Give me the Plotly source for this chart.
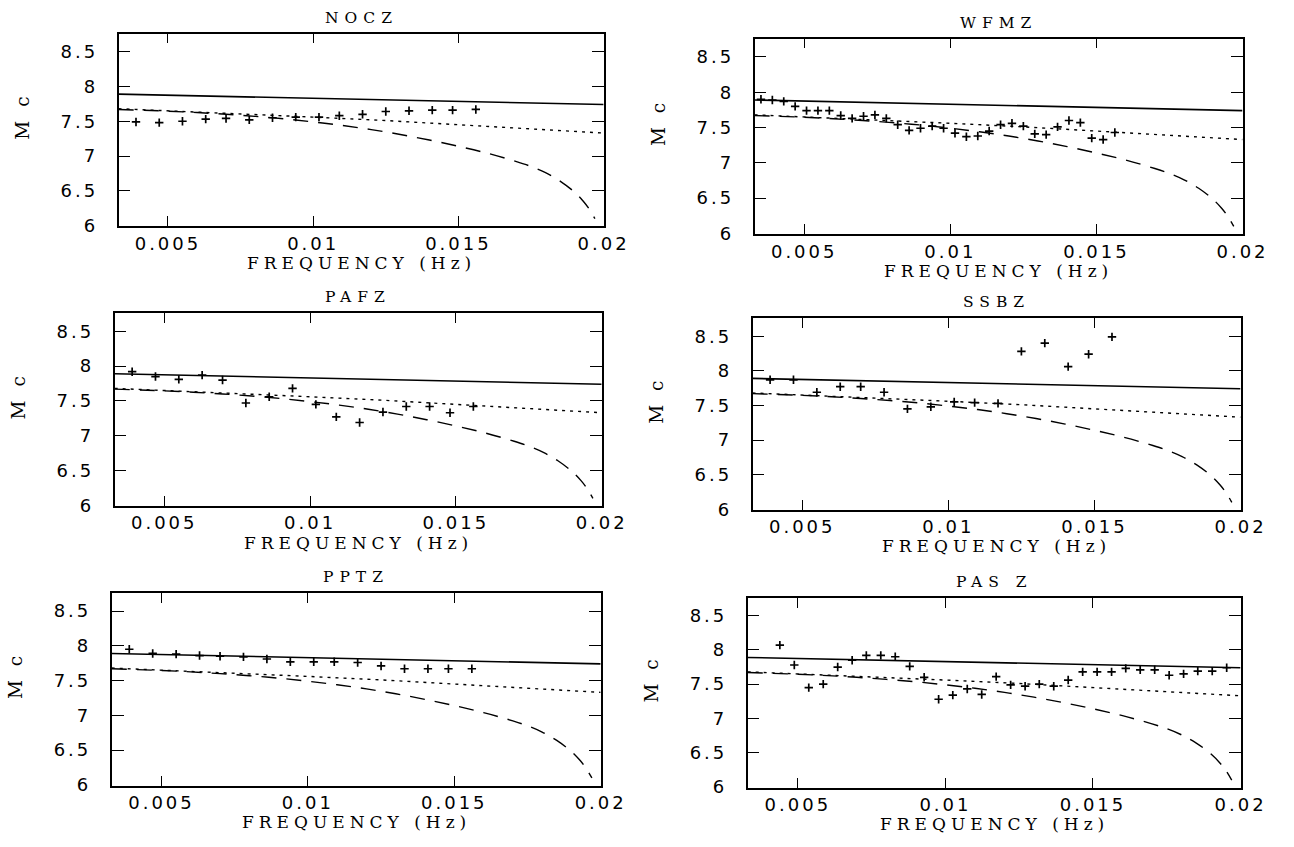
import plotly.graph_objects as go

# ---- model curves (shared by every station) ----
solid_freq = [0.0033, 0.010, 0.015, 0.020]
solid_mc = [7.89, 7.83, 7.78, 7.74]

dotted_freq = [0.0033, 0.005, 0.0075, 0.010, 0.0125, 0.015, 0.0175, 0.020]
dotted_mc = [7.68, 7.65, 7.61, 7.56, 7.51, 7.45, 7.39, 7.33]

dashed_freq = [0.0033, 0.005, 0.006, 0.007, 0.008, 0.009, 0.010, 0.011, 0.012,
               0.013, 0.014, 0.015, 0.016, 0.017, 0.0175, 0.018, 0.0185, 0.019,
               0.0193, 0.0195, 0.0197]
dashed_mc = [7.67, 7.645, 7.625, 7.60, 7.57, 7.535, 7.49, 7.44, 7.38,
             7.31, 7.23, 7.14, 7.04, 6.92, 6.85, 6.76, 6.64, 6.48,
             6.35, 6.24, 6.10]

# ---- station measurements ----
freq_a = [0.0039, 0.0047, 0.0055, 0.0063, 0.0070, 0.0078, 0.0086, 0.0094,
          0.0102, 0.0109, 0.0117, 0.0125, 0.0133, 0.0141, 0.0148, 0.0156]

freq_b = [0.00352, 0.00391, 0.00430, 0.00469, 0.00508, 0.00547, 0.00586, 0.00625,
          0.00664, 0.00703, 0.00742, 0.00781, 0.00820, 0.00859, 0.00898, 0.00938,
          0.00977, 0.01016, 0.01055, 0.01094, 0.01133, 0.01172, 0.01211, 0.01250,
          0.01289, 0.01328, 0.01367, 0.01406, 0.01445, 0.01484, 0.01523, 0.01563]

freq_c = [0.00439, 0.00488, 0.00537, 0.00586, 0.00635, 0.00684, 0.00732, 0.00781,
          0.00830, 0.00879, 0.00928, 0.00977, 0.01025, 0.01074, 0.01123, 0.01172,
          0.01221, 0.01270, 0.01318, 0.01367, 0.01416, 0.01465, 0.01514, 0.01563,
          0.01611, 0.01660, 0.01709, 0.01758, 0.01807, 0.01855, 0.01904, 0.01953]

nocz_mc = [7.49, 7.48, 7.50, 7.53, 7.54, 7.52, 7.55, 7.56,
           7.56, 7.58, 7.60, 7.64, 7.65, 7.66, 7.66, 7.67]

wfmz_mc = [7.90, 7.89, 7.87, 7.80, 7.74, 7.74, 7.74, 7.67,
           7.63, 7.66, 7.68, 7.63, 7.54, 7.46, 7.49, 7.52,
           7.49, 7.42, 7.37, 7.38, 7.45, 7.54, 7.56, 7.52,
           7.41, 7.40, 7.51, 7.60, 7.57, 7.35, 7.33, 7.43]

pafz_mc = [7.92, 7.85, 7.81, 7.87, 7.80, 7.47, 7.56, 7.68,
           7.45, 7.27, 7.19, 7.34, 7.42, 7.42, 7.33, 7.42]

ssbz_mc = [7.87, 7.87, 7.69, 7.77, 7.77, 7.69, 7.45, 7.48,
           7.55, 7.54, 7.53, 8.28, 8.40, 8.06, 8.24, 8.49]

pptz_mc = [7.95, 7.89, 7.88, 7.86, 7.85, 7.84, 7.81, 7.77,
           7.77, 7.77, 7.76, 7.71, 7.67, 7.67, 7.67, 7.67]

pasz_mc = [8.07, 7.78, 7.45, 7.50, 7.75, 7.85, 7.92, 7.92,
           7.90, 7.76, 7.60, 7.28, 7.34, 7.43, 7.35, 7.61,
           7.49, 7.47, 7.50, 7.47, 7.56, 7.68, 7.68, 7.68,
           7.73, 7.71, 7.71, 7.63, 7.65, 7.69, 7.69, 7.74]

station_names = ["NOCZ", "WFMZ", "PAFZ", "SSBZ", "PPTZ", "PAS Z"]
station_freq = [freq_a, freq_b, freq_a, freq_a, freq_a, freq_c]
station_mc = [nocz_mc, wfmz_mc, pafz_mc, ssbz_mc, pptz_mc, pasz_mc]

x_tickvals = [0.005, 0.01, 0.015, 0.02]
x_ticklabels = ["0.005", "0.01", "0.015", "0.02"]
y_tickvals = [6, 6.5, 7, 7.5, 8, 8.5]
y_ticklabels = ["6", "6.5", "7", "7.5", "8", "8.5"]

X_RANGE = [0.0033, 0.0200]
Y_RANGE = [5.99, 8.76]

W, H = 1294, 847

# panel frames in pixels: (left, right, top, bottom)
frames = [
    (121, 616, 34, 229),
    (770, 1268, 39, 237),
    (117, 614, 317, 512),
    (768, 1266, 322, 516),
    (114, 613, 600, 795),
    (763, 1266, 605, 797),
]

serif = "DejaVu Serif"
sans = "DejaVu Sans"


def spaced(text, px):
    """Wide, plotter-style lettering via CSS letter spacing."""
    return f'<span style="letter-spacing:{px}px">{text}</span>'


x_ticktext = [spaced(t, 3) for t in x_ticklabels]
y_ticktext = [spaced(t, 3) for t in y_ticklabels]

fig = go.Figure()
layout = {}
annotations = []

for i, (name, fx, mc) in enumerate(zip(station_names, station_freq, station_mc)):
    n = i + 1
    xa = "x" if n == 1 else f"x{n}"
    ya = "y" if n == 1 else f"y{n}"
    l, r, t, b = frames[i]
    xdom = [l / W, r / W]
    ydom = [1 - b / H, 1 - t / H]

    fig.add_trace(go.Scatter(x=solid_freq, y=solid_mc, mode="lines",
                             line=dict(color="black", width=1.6),
                             xaxis=xa, yaxis=ya, showlegend=False))
    fig.add_trace(go.Scatter(x=dotted_freq, y=dotted_mc, mode="lines",
                             line=dict(color="black", width=1.4, dash="3px,5px"),
                             xaxis=xa, yaxis=ya, showlegend=False))
    fig.add_trace(go.Scatter(x=dashed_freq, y=dashed_mc, mode="lines",
                             line=dict(color="black", width=1.4, dash="15px,10px",
                                       shape="spline"),
                             xaxis=xa, yaxis=ya, showlegend=False))
    fig.add_trace(go.Scatter(x=fx, y=mc, mode="markers",
                             marker=dict(symbol="cross-thin", size=6,
                                         line=dict(color="black", width=1.7)),
                             xaxis=xa, yaxis=ya, showlegend=False))

    xkey = "xaxis" if n == 1 else f"xaxis{n}"
    ykey = "yaxis" if n == 1 else f"yaxis{n}"
    layout[xkey] = dict(
        domain=xdom, anchor=ya, range=X_RANGE,
        tickvals=x_tickvals, ticktext=x_ticktext,
        ticks="inside", ticklen=10, tickwidth=1.4, tickcolor="black",
        showline=True, linecolor="black", linewidth=1.6, mirror="ticks",
        showgrid=False, zeroline=False,
        tickfont=dict(family=sans, size=18, color="black"),
        ticklabelstandoff=0,
    )
    layout[ykey] = dict(
        domain=ydom, anchor=xa, range=Y_RANGE,
        tickvals=y_tickvals, ticktext=y_ticktext,
        ticks="inside", ticklen=12, tickwidth=1.4, tickcolor="black",
        showline=True, linecolor="black", linewidth=1.6, mirror="ticks",
        showgrid=False, zeroline=False,
        tickfont=dict(family=sans, size=18, color="black"),
        ticklabelstandoff=15,
    )

    cx = (l + r) / 2 / W
    # station title
    annotations.append(dict(text=spaced(name, 6), xref="paper", yref="paper",
                            x=cx, y=1 - (t - 16) / H, yanchor="middle",
                            xanchor="center", showarrow=False, borderpad=0,
                            font=dict(family=serif, size=15.5, color="black")))
    # x-axis title
    annotations.append(dict(text=spaced("FREQUENCY (Hz)", 5), xref="paper",
                            yref="paper", x=cx, y=1 - (b + 37) / H,
                            yanchor="middle", xanchor="center", showarrow=False,
                            borderpad=0,
                            font=dict(family=serif, size=17, color="black")))
    # y-axis title
    annotations.append(dict(text=spaced("M c", 4), xref="paper", yref="paper",
                            x=(l - 98) / W, y=1 - ((t + b) / 2 - 14) / H,
                            xanchor="center", yanchor="middle", textangle=-90,
                            showarrow=False, borderpad=0,
                            font=dict(family=serif, size=18.5, color="black")))

fig.update_layout(
    width=W, height=H,
    margin=dict(l=0, r=0, t=0, b=0),
    paper_bgcolor="white", plot_bgcolor="white",
    annotations=annotations,
    **layout,
)

fig.write_html("out.html")
